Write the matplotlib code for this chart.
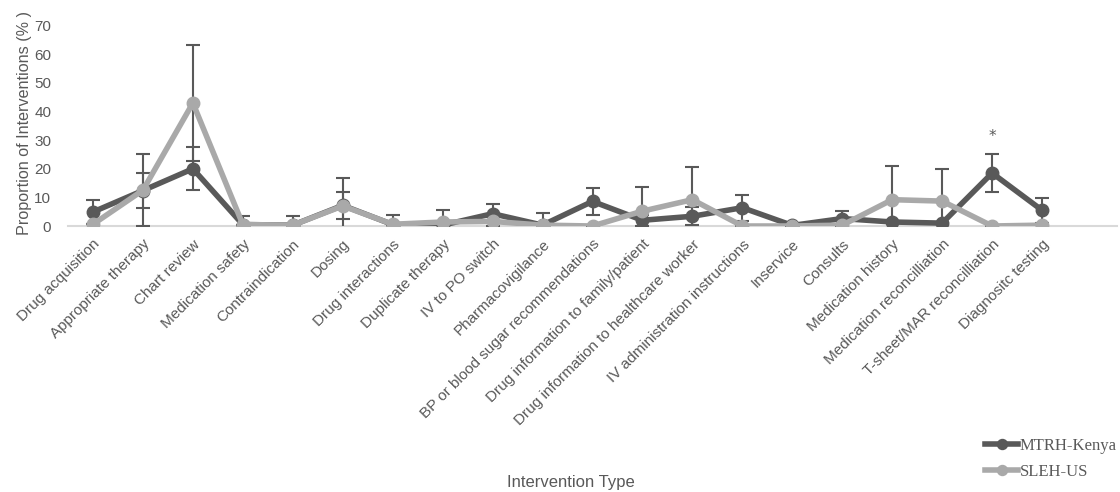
import matplotlib.pyplot as plt
import numpy as np

# data
categories = ['Drug acquisition', 'Appropriate therapy', 'Chart review', 'Medication safety',
              'Contraindication', 'Dosing', 'Drug interactions', 'Duplicate therapy',
              'IV to PO switch', 'Pharmacovigilance', 'BP or blood sugar recommendations',
              'Drug information to family/patient', 'Drug information to healthcare worker',
              'IV administration instructions', 'Inservice', 'Consults', 'Medication history',
              'Medication reconcilliation', 'T-sheet/MAR reconcilliation', 'Diagnositc testing']
mtrh = [4.9, 12.4, 20.0, 0.5, 0.3, 7.2, 0.5, 0.3, 4.3, 0.3, 8.6, 2.0, 3.4, 6.4, 0.2, 2.6, 1.4, 1.0, 18.5, 5.5]
mtrh_err = [4.1, 6.0, 7.5, 0, 0, 4.7, 0, 0, 3.3, 0, 4.8, 2.0, 3.2, 4.5, 0, 2.6, 0, 0, 6.5, 4.3]
sleh = [0.6, 12.5, 43.0, 0.5, 0.3, 7.0, 0.6, 1.4, 1.6, 0.3, 0.0, 5.2, 9.2, 0.0, 0.0, 0.3, 9.2, 8.7, 0.0, 0.3]
sleh_err = [0, 12.5, 20.2, 2.9, 3.1, 9.7, 3.1, 4.3, 1.5, 4.4, 0, 8.4, 11.4, 0, 0, 0, 11.6, 11.3, 0, 0]

dark = '#595959'
light = '#a9a9a9'

fig = plt.figure(figsize=(11.2, 4.92), dpi=100)
ax = fig.add_axes([68 / 1120, 1 - 226 / 492, (1117 - 68) / 1120, (226 - 25.7) / 492])

x = np.arange(len(categories))

# error bars first, underneath the lines
ax.errorbar(x, mtrh, yerr=mtrh_err, fmt='none', ecolor=dark, elinewidth=1.5, capsize=5, capthick=1.5, zorder=1)
ax.errorbar(x, sleh, yerr=sleh_err, fmt='none', ecolor=dark, elinewidth=1.5, capsize=5, capthick=1.5, zorder=1)

ax.plot(x, mtrh, color=dark, lw=4, marker='o', ms=9, label='MTRH-Kenya', zorder=3)
ax.plot(x, sleh, color=light, lw=4, marker='o', ms=9, label='SLEH-US', zorder=4)

# significance marker
ax.text(18, 31.3, '*', ha='center', va='center', fontsize=11, color=dark)

ax.set_xlim(-0.5, 20.5)
ax.set_ylim(0, 70)
ax.set_yticks(range(0, 71, 10))
ax.set_xticks(x)
ax.set_xticklabels(categories, rotation=45, ha='right', rotation_mode='anchor',
                   fontsize=11, color=dark, family='Liberation Sans')
for lbl in ax.get_yticklabels():
    lbl.set_fontsize(11)
    lbl.set_color(dark)
    lbl.set_family('Liberation Sans')
ax.tick_params(axis='both', length=0)
ax.tick_params(axis='x', pad=8)
ax.tick_params(axis='y', pad=12)

for side in ['top', 'right', 'left']:
    ax.spines[side].set_visible(False)
ax.spines['bottom'].set_color('#d9d9d9')
ax.spines['bottom'].set_linewidth(1.5)
ax.spines['bottom'].set_zorder(0)

fig.text(25 / 1120, 1 - 123 / 492, 'Proportion of Interventions (% )', rotation=90,
         ha='center', va='center', fontsize=11.6, color=dark, family='Liberation Sans')
fig.text(571 / 1120, 1 - 483 / 492, 'Intervention Type', ha='center', va='center',
         fontsize=12, color=dark, family='Liberation Sans')

leg = fig.legend(loc='upper left', bbox_to_anchor=(985 / 1120, 1 - 438 / 492), frameon=False,
                 prop={'family': 'Liberation Serif', 'size': 12}, markerscale=0.8,
                 handlelength=2.0, handletextpad=0.1, labelspacing=0.6, borderaxespad=0.0,
                 borderpad=0.0)
for t in leg.get_texts():
    t.set_color(dark)

plt.savefig('out.png', dpi=100)
